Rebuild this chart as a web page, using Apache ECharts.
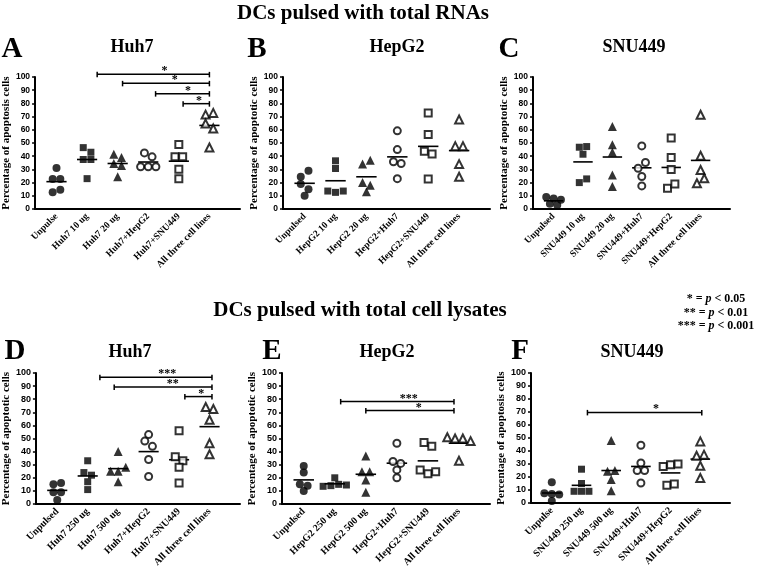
<!DOCTYPE html>
<html><head><meta charset="utf-8">
<script src="https://cdn.jsdelivr.net/npm/echarts@6/dist/echarts.min.js"></script>
<style>html,body{margin:0;padding:0;background:#fff}#c{width:758px;height:573px}</style>
</head><body><div id="c"></div>
<script>
// ---------- DATA ----------
const catsA = ['Unpulse','Huh7 10 ug','Huh7 20 ug','Huh7+HepG2','Huh7+SNU449','All three cell lines'];
const catsB = ['Unpulsed','HepG2 10 ug','HepG2 20 ug','HepG2+Huh7','HepG2+SNU449','All three cell lines'];
const catsC = ['Unpulsed','SNU449 10 ug','SNU449 20 ug','SNU449+Huh7','SNU449+HepG2','All three cell lines'];
const catsD = ['Unpulsed','Huh7 250 ug','Huh7 500 ug','Huh7+HepG2','Huh7+SNU449','All three cell lines'];
const catsE = ['Unpulsed','HepG2 250 ug','HepG2 500 ug','HepG2+Huh7','HepG2+SNU449','All three cell lines'];
const catsF = ['Unpulse','SNU449 250 ug','SNU449 500 ug','SNU449+Huh7','SNU449+HepG2','All three cell lines'];

const valsA = [[31,22.7,22.7,12.6,14.6],[46.5,43,37.5,37.5,23],[41.5,39,34.5,33,24.4],[42.5,39.5,32,32,32],[48.9,39.5,39.5,30.2,23],[71.5,72.8,64.7,61,46.6]];
const valsB = [[24.4,29,19,15,10],[36.5,30.7,13.6,12.6,13.6],[34,37,20,18,13],[59.2,45,35.8,34.5,23],[72.8,56.4,43.8,41.6,22.7],[67.8,47.6,47.6,34,24.4]];
const valsC = [[9,8,7,4,3],[46.8,47.3,41.5,20,22.8],[62.5,48.6,43,25.8,17],[47.8,30.9,35.2,24.6,17.5],[53.7,39,30,15.7,19],[71.4,40.3,29.6,19.5,23.3]];
const valsD = [[15,16,9,9,3],[33,24,22,17,11],[40,25,25,28,17],[53,48,44,34,21],[56,36,33,28,16],[74,72.5,64.3,46.4,38]];
const valsE = [[24,29,15,14,10],[20,13.5,14,15,14.5],[36.7,24.7,24.7,18.4,9],[46.4,32.4,31,26,20],[47,44,26,23,24.7],[51,50,50,48,33]];
const valsF = [[16,7.5,7,6.5,1.5],[26,15,9,9,9],[48,24.4,25,18,9.5],[44.4,30.8,25,25,15.4],[28,29.5,30,13.6,14.6],[47.4,36.4,37.2,28.7,19.2]];

// significance comparisons: [from group, to group, bar level, stars]
const sigA = [[2.33,6,102,'*'],[3.16,6,95.2,'*'],[4.24,6,87.4,'*'],[5.14,6,79.8,'*']];
const sigB = [];
const sigC = [];
const sigD = [[2.4,6.08,96.7,'***'],[2.87,6.08,89.3,'**'],[5.19,6.08,82,'*']];
const sigE = [[2.19,5.84,78.3,'***'],[3.0,5.84,71.4,'*']];
const sigF = [[2.2,6.05,69.7,'*']];

const letters = ['A','B','C','D','E','F'];
const cellTitles = ['Huh7','HepG2','SNU449','Huh7','HepG2','SNU449'];
const yNames = ['Percentage of apoptosis cells','Percentage of apoptotic cells','Percentage of apoptotic cells',
                'Percentage of apoptotic cells','Percentage of apoptotic cells','Percentage of apoptosis cells'];
const yTicks = [0,10,20,30,40,50,60,70,80,90,100];

// ---------- LAYOUT / STYLE ----------
const SERIF = '"Liberation Serif","Times New Roman",serif';
const SANS = '"Liberation Sans",Arial,sans-serif';
const panels = [
  {cats:catsA, vals:valsA, sig:sigA, grid:{left:33,top:77,width:207,height:132}, lx:12, ly:50, tx:132, ty:47, fs:9.5, yfs:8.5},
  {cats:catsB, vals:valsB, sig:sigB, grid:{left:283,top:77,width:207,height:132}, lx:257, ly:50, tx:397, ty:47, fs:9.5, yfs:8.5},
  {cats:catsC, vals:valsC, sig:sigC, grid:{left:533,top:77,width:197,height:132}, lx:509, ly:50, tx:634, ty:47, fs:9.5, yfs:8.5},
  {cats:catsD, vals:valsD, sig:sigD, grid:{left:32,top:373,width:208,height:131}, lx:15, ly:352, tx:130, ty:352, fs:10, yfs:9},
  {cats:catsE, vals:valsE, sig:sigE, grid:{left:282,top:373,width:208,height:131}, lx:272, ly:352, tx:387, ty:352, fs:10, yfs:9},
  {cats:catsF, vals:valsF, sig:sigF, grid:{left:531,top:373,width:199,height:130}, lx:520, ly:352, tx:632, ty:352, fs:10, yfs:9}
];
const symbols = ['circle','rect','triangle','circle','rect','triangle'];
const sizes = [8,7,9,7,7,8];
const hollow = [false,false,false,true,true,true];

// beeswarm-like horizontal spreading of points with close values
function swarm(vals, step, thr){
  const idx = vals.map((v,i)=>i).sort((a,b)=>vals[b]-vals[a] || a-b);
  const rows = [];
  idx.forEach(i=>{
    const r = rows[rows.length-1];
    if (r && vals[r[0]] - vals[i] < thr) r.push(i); else rows.push([i]);
  });
  const off = new Array(vals.length);
  rows.forEach(r=>{ r.sort((a,b)=>a-b); r.forEach((i,k)=>{ off[i] = (k-(r.length-1)/2)*step; }); });
  return off;
}
const mean = a => a.reduce((s,v)=>s+v,0)/a.length;

const grids=[], xAxes=[], yAxes=[], series=[];
panels.forEach((p,pi)=>{
  grids.push(Object.assign({containLabel:false}, p.grid));
  xAxes.push({type:'value', gridIndex:pi, min:0.3, max:7,
    axisLine:{show:true,onZero:false,lineStyle:{color:'#000',width:2}},
    axisTick:{show:false}, splitLine:{show:false},
    axisLabel:{customValues:[1,2,3,4,5,6], formatter:v=>p.cats[Math.round(v)-1], rotate:45,
      fontFamily:SERIF, fontWeight:'bold', fontSize:p.fs, color:'#000', margin:6}});
  yAxes.push({type:'value', gridIndex:pi, min:0, max:100, interval:10,
    axisLine:{show:true,lineStyle:{color:'#000',width:2}},
    axisTick:{show:true,length:3,lineStyle:{color:'#000',width:1.5}},
    splitLine:{show:false},
    axisLabel:{customValues:yTicks, color:'#000', fontFamily:SANS, fontWeight:'bold', fontSize:p.yfs, margin:5},
    name:yNames[pi], nameLocation:'middle', nameGap:22,
    nameTextStyle:{fontFamily:SERIF, fontWeight:'bold', fontSize:11, color:'#000'}});
  p.vals.forEach((arr,g)=>{
    const off = swarm(arr, 0.25, 5);
    series.push({type:'scatter', xAxisIndex:pi, yAxisIndex:pi, clip:false, silent:true,
      symbol:symbols[g], symbolSize:sizes[g],
      itemStyle: hollow[g] ? {color:'#fff', borderColor:'#000', borderWidth:2} : {color:'#000'},
      data: arr.map((v,i)=>[g+1+off[i], v])});
  });
  series.push({type:'custom', xAxisIndex:pi, yAxisIndex:pi, clip:false, silent:true,
    data: p.vals.map((arr,g)=>[g+1, mean(arr)]),
    renderItem:(params,api)=>{
      const a = api.coord([api.value(0)-0.33, api.value(1)]);
      const b = api.coord([api.value(0)+0.33, api.value(1)]);
      return {type:'line', shape:{x1:a[0],y1:a[1],x2:b[0],y2:b[1]}, style:{stroke:'#000',lineWidth:1.6}};
    }});
  if (p.sig.length){
    series.push({type:'custom', xAxisIndex:pi, yAxisIndex:pi, clip:false, silent:true,
      data: p.sig.map(s=>[s[0],s[1],s[2]]),
      renderItem:(params,api)=>{
        const a = api.coord([api.value(0), api.value(2)]);
        const b = api.coord([api.value(1), api.value(2)]);
        const st = {stroke:'#000', lineWidth:1.5};
        return {type:'group', children:[
          {type:'line', shape:{x1:a[0],y1:a[1],x2:b[0],y2:b[1]}, style:st},
          {type:'line', shape:{x1:a[0],y1:a[1]-2.5,x2:a[0],y2:a[1]+3},style:st},
          {type:'line', shape:{x1:b[0],y1:b[1]-2.5,x2:b[0],y2:b[1]+3}, style:st},
          {type:'text', x:a[0]+0.6*(b[0]-a[0]), y:a[1]+3, style:{text:p.sig[params.dataIndex][3],
            font:'bold 12px '+SERIF, fill:'#000', align:'center', verticalAlign:'bottom',
            textAlign:'center', textVerticalAlign:'bottom'}}
        ]};
      }});
  }
});

const graphic = [];
function txt(x,y,text,font,extra){
  graphic.push({type:'text', x:x, y:y, silent:true, style:Object.assign({text:text, font:font, fill:'#000',
    align:'center', verticalAlign:'middle', textAlign:'center', textVerticalAlign:'middle'}, extra||{})});
}
txt(363, 14, 'DCs pulsed with total RNAs', 'bold 21px '+SERIF);
txt(360, 311, 'DCs pulsed with total cell lysates', 'bold 21px '+SERIF);
panels.forEach((p,pi)=>{
  txt(p.lx, p.ly, letters[pi], 'bold 29px '+SERIF);
  txt(p.tx, p.ty, cellTitles[pi], 'bold 18px '+SERIF);
});
const legendLines = [['*',' < 0.05'],['**',' < 0.01'],['***',' < 0.001']];
const legendY = [299,313,326];
legendLines.forEach((l,i)=>{
  graphic.push({type:'text', x:716, y:legendY[i], silent:true, style:{
    text:'{n|'+l[0]+' = }{i|p}{n|'+l[1]+'}',
    align:'center', verticalAlign:'middle', textAlign:'center', textVerticalAlign:'middle',
    rich:{n:{fontFamily:SERIF, fontWeight:'bold', fontSize:12, fill:'#000', color:'#000'},
          i:{fontFamily:SERIF, fontWeight:'bold', fontStyle:'italic', fontSize:12, fill:'#000', color:'#000'}}}});
});

const chart = echarts.init(document.getElementById('c'));
chart.setOption({animation:false, backgroundColor:'#fff', grid:grids, xAxis:xAxes, yAxis:yAxes, series:series, graphic:graphic});
</script></body></html>
